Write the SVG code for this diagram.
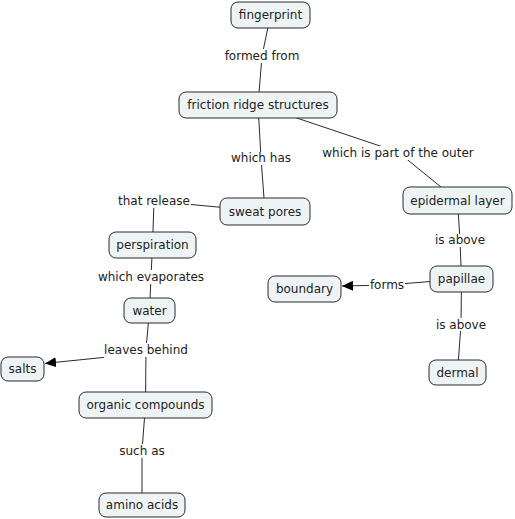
<svg xmlns="http://www.w3.org/2000/svg" width="515" height="519" viewBox="0 0 515 519">
<style>
text{font-family:"DejaVu Sans",Verdana,sans-serif;font-size:12px;fill:#222;text-anchor:middle}
.n rect{fill:#eef4f6;stroke:#2a2a2a;stroke-width:1}
.c{fill:none;stroke:#2a2a2a;stroke-width:1}
.lb{fill:#fff}
</style>
<defs>
<marker id="ah" markerUnits="userSpaceOnUse" markerWidth="12" markerHeight="10" refX="11" refY="5" orient="auto">
<path d="M0,0 L11,5 L0,10 z" fill="#000"/>
</marker>
</defs>
<rect width="515" height="519" fill="#fff"/>
<g id="connectors">
<polyline class="c" points="270.5,15 262,56 258,105"/>
<polyline class="c" points="258,105 261,158 265,211.5"/>
<polyline class="c" points="258,105 398,152 457.5,200.5"/>
<polyline class="c" points="265,211.5 154,201 152.5,245"/>
<polyline class="c" points="152.5,245 151,277.5 149.5,310.5"/>
<polyline class="c" points="149.5,310.5 146,349 145.5,405"/>
<line class="c" x1="104" y1="357.4" x2="45" y2="363.4" marker-end="url(#ah)"/>
<polyline class="c" points="145.5,405 142,450.5 142,505"/>
<polyline class="c" points="457.5,200.5 460,240.5 461.5,279"/>
<polyline class="c" points="461.5,279 387,285"/>
<line class="c" x1="372" y1="285.4" x2="342" y2="286" marker-end="url(#ah)"/>
<polyline class="c" points="461.5,279 461,324.5 457.5,372.5"/>
<g id="labels">
<rect class="lb" x="224" y="49" width="77" height="14"/><text x="262" y="60">formed from</text>
<rect class="lb" x="230" y="152" width="62" height="13"/><text x="261" y="162">which has</text>
<rect class="lb" x="322" y="146" width="153" height="14"/><text x="398" y="157">which is part of the outer</text>
<rect class="lb" x="117" y="194" width="74" height="14"/><text x="154" y="205">that release</text>
<rect class="lb" x="98" y="270" width="106" height="14"/><text x="151" y="281">which evaporates</text>
<rect class="lb" x="105" y="343" width="83" height="14"/><text x="146" y="354">leaves behind</text>
<rect class="lb" x="119" y="444" width="47" height="14"/><text x="142" y="455">such as</text>
<rect class="lb" x="435" y="234" width="50" height="13"/><text x="460" y="244">is above</text>
<rect class="lb" x="369" y="279" width="36" height="12"/><text x="387" y="289">forms</text>
<rect class="lb" x="436" y="318" width="50" height="13"/><text x="461" y="329">is above</text>
</g>
</g>
<g id="fingerprint" class="n"><rect x="231" y="2" width="79" height="26" rx="7"/><text x="270.5" y="19">fingerprint</text></g>
<g id="friction-ridge-structures" class="n"><rect x="179" y="92" width="158" height="26" rx="7"/><text x="258" y="109">friction ridge structures</text></g>
<g id="sweat-pores" class="n"><rect x="220" y="198" width="90" height="27" rx="7"/><text x="265" y="216">sweat pores</text></g>
<g id="epidermal-layer" class="n"><rect x="403" y="187" width="109" height="27" rx="7"/><text x="457.5" y="205">epidermal layer</text></g>
<g id="papillae" class="n"><rect x="430" y="266" width="63" height="26" rx="7"/><text x="461.5" y="283">papillae</text></g>
<g id="boundary" class="n"><rect x="268" y="276" width="73" height="26" rx="7"/><text x="304.5" y="293">boundary</text></g>
<g id="dermal" class="n"><rect x="429" y="360" width="57" height="25" rx="7"/><text x="457.5" y="377">dermal</text></g>
<g id="perspiration" class="n"><rect x="109" y="232" width="87" height="26" rx="7"/><text x="152.5" y="249">perspiration</text></g>
<g id="water" class="n"><rect x="124" y="298" width="51" height="25" rx="7"/><text x="149.5" y="315">water</text></g>
<g id="salts" class="n"><rect x="1" y="357" width="43" height="24" rx="7"/><text x="22.5" y="373">salts</text></g>
<g id="organic-compounds" class="n"><rect x="79" y="392" width="133" height="26" rx="7"/><text x="145.5" y="409">organic compounds</text></g>
<g id="amino-acids" class="n"><rect x="99" y="493" width="86" height="24" rx="7"/><text x="142" y="509">amino acids</text></g>
</svg>
